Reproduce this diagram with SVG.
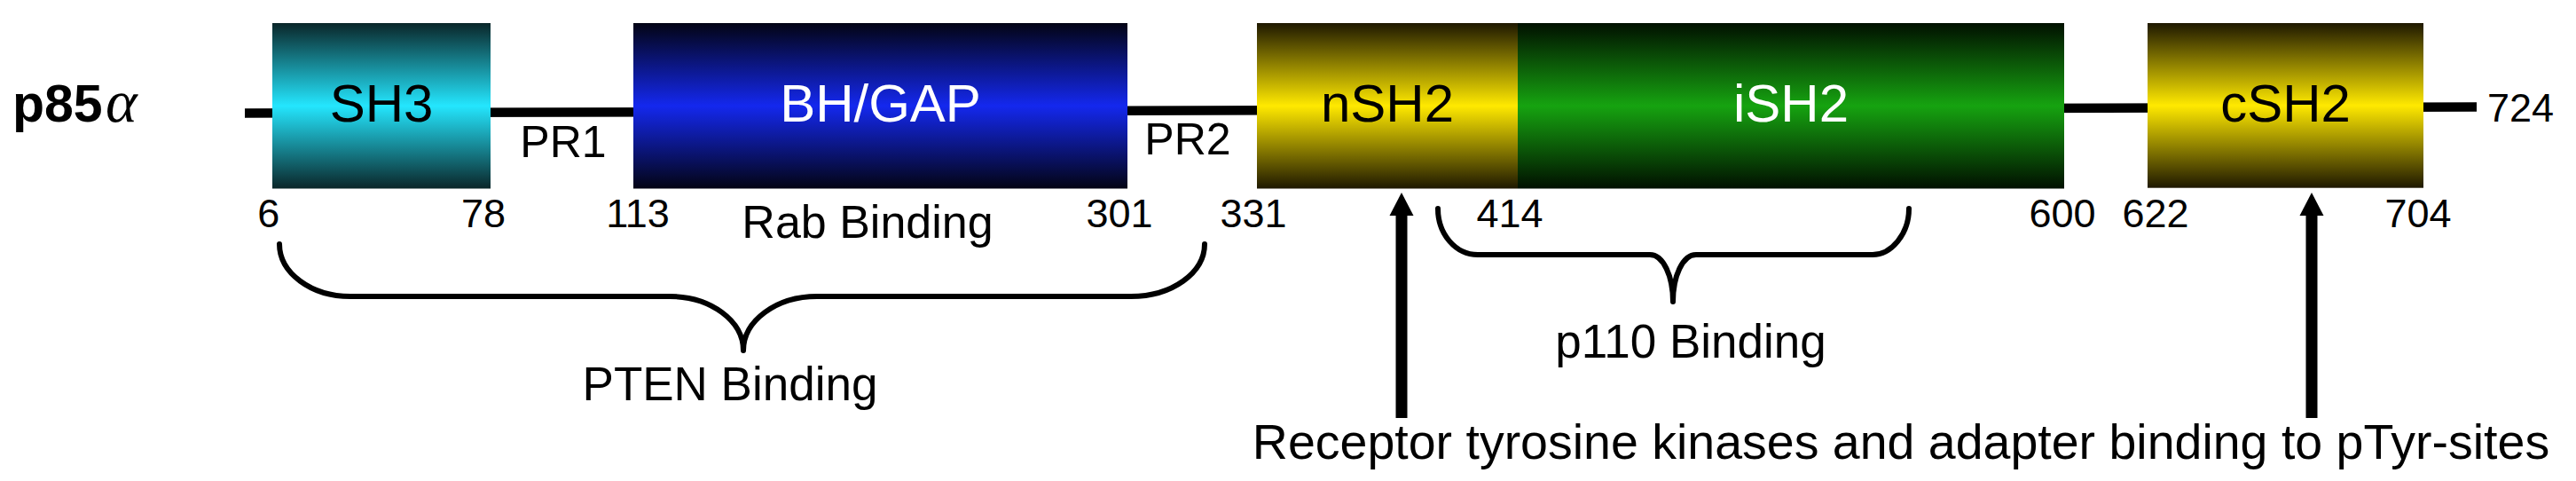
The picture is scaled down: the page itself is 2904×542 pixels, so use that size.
<svg xmlns="http://www.w3.org/2000/svg" width="2904" height="542" viewBox="0 0 2904 542">
<defs>
<linearGradient id="gCyan" x1="0" y1="0" x2="0" y2="1"><stop offset="0" stop-color="#0a2629"/><stop offset="0.5" stop-color="#24e6fe"/><stop offset="1" stop-color="#0a2629"/></linearGradient>
<linearGradient id="gBlue" x1="0" y1="0" x2="0" y2="1"><stop offset="0" stop-color="#030414"/><stop offset="0.5" stop-color="#1428ee"/><stop offset="1" stop-color="#030414"/></linearGradient>
<linearGradient id="gYellow" x1="0" y1="0" x2="0" y2="1"><stop offset="0" stop-color="#1e1800"/><stop offset="0.5" stop-color="#ffe900"/><stop offset="1" stop-color="#1e1800"/></linearGradient>
<linearGradient id="gGreen" x1="0" y1="0" x2="0" y2="1"><stop offset="0" stop-color="#011000"/><stop offset="0.5" stop-color="#16a310"/><stop offset="1" stop-color="#011000"/></linearGradient>
</defs>
<style>
text{font-family:"Liberation Sans",Arial,sans-serif;fill:#000}
.dom{font-size:60px;text-anchor:middle}
.w{fill:#fff}
.num{font-size:45px;text-anchor:middle}
.pr{font-size:50px;text-anchor:middle}
.lbl{font-size:53px;text-anchor:middle}
.brace{fill:none;stroke:#000;stroke-width:6;stroke-linecap:round;stroke-linejoin:round}
.shaft{stroke:#000;stroke-width:13}
</style>
<g id="title">
<text x="14" y="136.7" style="font-size:59px;font-weight:bold">p85</text>
<text x="119" y="136.7" style="font-family:'Liberation Serif',serif;font-style:italic;font-size:68px">α</text>
</g>
<g id="connectors">
<line x1="276" y1="127.5" x2="2792" y2="120.5" stroke="#000" stroke-width="10.5"/>
<path class="brace" d="M315,275 C315,307.6 350.8,334 395,334 L755,334 C800.8,334 838,361.3 838,395 C838,361.3 875.2,334 921,334 L1275,334 C1321,334 1358,307.6 1358,275"/>
<path class="brace" d="M1621,235 C1621,264 1641,287 1666,287 L1860,287 C1875,287 1886,311 1886,340 C1886,311 1897,287 1912,287 L2111,287 C2132,287 2152,264 2152,235"/>
<line class="shaft" x1="1580" y1="240" x2="1580" y2="471"/>
<polygon points="1580,217 1593.5,243 1566.5,243"/>
<line class="shaft" x1="2606" y1="240" x2="2606" y2="471"/>
<polygon points="2606,217 2619.5,243 2592.5,243"/>
</g>
<g id="SH3">
<rect x="307" y="26" width="246" height="186.5" fill="url(#gCyan)"/>
<text class="dom" x="430" y="137">SH3</text>
</g>
<g id="BHGAP">
<rect x="714" y="26" width="557" height="186.5" fill="url(#gBlue)"/>
<text class="dom w" x="992.5" y="137">BH/GAP</text>
</g>
<g id="nSH2">
<rect x="1417" y="26" width="294" height="186.5" fill="url(#gYellow)"/>
<text class="dom" x="1564" y="137">nSH2</text>
</g>
<g id="iSH2">
<rect x="1711" y="26" width="616" height="186.5" fill="url(#gGreen)"/>
<text class="dom w" x="2019" y="137">iSH2</text>
</g>
<g id="cSH2">
<rect x="2421" y="26" width="311" height="185.7" fill="url(#gYellow)"/>
<text class="dom" x="2576.5" y="137">cSH2</text>
</g>
<g id="labels">
<text class="pr" x="635" y="176.7">PR1</text>
<text class="pr" x="1339" y="174">PR2</text>
<text class="num" x="302.7" y="256">6</text>
<text class="num" x="545" y="256">78</text>
<text class="num" x="719" y="256">113</text>
<text class="num" x="1262" y="256">301</text>
<text class="num" x="1413" y="256">331</text>
<text class="num" x="1702" y="256">414</text>
<text class="num" x="2325" y="256">600</text>
<text class="num" x="2430" y="256">622</text>
<text class="num" x="2726" y="256">704</text>
<text x="2804" y="136.7" style="font-size:45px">724</text>
<text class="lbl" x="978" y="268" style="font-size:52px">Rab Binding</text>
<text class="lbl" x="823" y="451">PTEN Binding</text>
<text class="lbl" x="1906" y="403">p110 Binding</text>
<text class="lbl" x="2143" y="517" style="font-size:55.5px">Receptor tyrosine kinases and adapter binding to pTyr-sites</text>
</g>
</svg>
